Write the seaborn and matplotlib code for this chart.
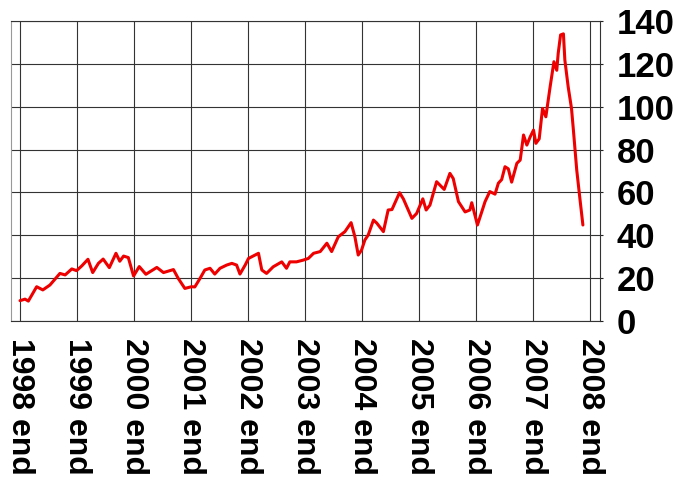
import matplotlib
matplotlib.use("Agg")
import matplotlib.pyplot as plt
import seaborn as sns
import pandas as pd

# months counted from the end of 1998, price
months = [0, 1.05, 1.75, 3.5, 4.8, 6.3, 8.4, 9.5, 10.9, 11.9,
          13.0, 14.3, 15.3, 16.5, 17.5, 18.8, 20.2, 21.0, 21.8, 22.8,
          23.9, 25.1, 26.5, 28.8, 30.2, 32.3, 33.3, 34.7, 36.1, 36.8,
          37.9, 38.9, 40.0, 41.0, 42.1, 43.5, 44.6, 45.6, 46.3, 47.4,
          48.1, 50.2, 50.9, 51.9, 53.3, 55.1, 56.1, 56.8, 58.2, 59.6,
          60.7, 61.8, 63.2, 64.6, 65.6, 67.0, 68.4, 69.7, 70.5, 71.2,
          71.9, 72.6, 73.3, 74.4, 75.1, 76.5, 77.5, 78.3, 79.9, 80.7,
          82.5, 83.5, 84.8, 85.5, 86.3, 87.7, 89.3, 90.5, 91.2, 92.3,
          93.7, 94.7, 95.1, 96.3, 97.2, 97.9, 98.9, 100.0, 100.7, 101.4,
          102.1, 102.8, 103.5, 104.6, 105.3, 106.0, 106.7, 107.4, 108.1, 108.6,
          109.3, 110.0, 110.7, 111.6, 112.4, 113.0, 113.3, 113.8, 114.4, 114.7,
          115.4, 116.1, 116.5, 117.2, 117.9, 118.5]
price = [9.5, 10.2, 9.3, 16.0, 14.5, 16.8, 22.2, 21.5, 24.3, 23.5,
         25.7, 28.8, 22.6, 26.9, 28.9, 24.9, 31.6, 27.9, 30.3, 29.6,
         21.0, 25.4, 21.8, 25.0, 22.6, 24.0, 19.9, 15.2, 16.0, 15.9,
         19.9, 23.8, 24.6, 21.9, 24.6, 26.1, 26.9, 26.1, 21.9, 26.1,
         29.2, 31.6, 23.8, 22.2, 25.3, 27.6, 24.6, 27.6, 27.6, 28.4,
         29.2, 31.6, 32.4, 36.3, 32.4, 39.3, 41.7, 45.9, 39.3, 30.8,
         33.1, 37.8, 40.1, 47.1, 45.7, 41.7, 51.8, 52.0, 59.9, 57.0,
         47.9, 50.2, 57.0, 51.8, 54.1, 65.0, 61.4, 68.9, 66.5, 55.7,
         50.9, 51.8, 55.2, 44.8, 50.9, 55.7, 60.4, 59.2, 64.3, 66.0,
         72.0, 71.0, 64.8, 73.6, 75.1, 86.8, 82.1, 85.9, 89.1, 82.9,
         85.0, 99.2, 95.3, 109.3, 121.0, 117.0, 124.9, 133.5, 134.0, 121.8,
         109.3, 99.2, 89.1, 70.5, 56.5, 44.8]

years = list(range(1998, 2009))
year_labels = [f"{y} end" for y in years]
y_ticks = [0, 20, 40, 60, 80, 100, 120, 140]

df = pd.DataFrame({"month": months, "price": price})

sns.set_style("white")
plt.rcParams["font.family"] = ["Liberation Sans", "DejaVu Sans"]

fig = plt.figure(figsize=(6.88, 4.84), dpi=100)
ax = fig.add_axes([11 / 688, 1 - 321 / 484, 589 / 688, 300 / 484])

sns.lineplot(data=df, x="month", y="price", color="#ee0000", linewidth=2.2, ax=ax)

ax.set_xlim(-1.9, 122.1)
ax.set_ylim(0, 140)
ax.set_xticks([12 * i for i in range(len(years))])
ax.set_xticklabels(year_labels, rotation=270, fontsize=23, fontweight="bold")
ax.set_yticks(y_ticks)
ax.set_yticklabels([str(v) for v in y_ticks], fontsize=25, fontweight="bold")
ax.yaxis.tick_right()
ax.tick_params(axis="x", direction="out", length=3, width=0.8, pad=9, colors="#222")
ax.tick_params(axis="y", direction="out", length=2, width=0.8, pad=10, colors="#222")
for lab in ax.get_xticklabels() + ax.get_yticklabels():
    lab.set_color("black")

ax.grid(True, color="#333333", linewidth=0.8)
ax.set_axisbelow(True)
for side in ["top", "right", "bottom"]:
    ax.spines[side].set_color("#333333")
    ax.spines[side].set_linewidth(0.8)
ax.spines["left"].set_color("#999999")
ax.spines["left"].set_linewidth(0.8)
ax.set_xlabel("")
ax.set_ylabel("")

fig.savefig("out.png", dpi=100)
